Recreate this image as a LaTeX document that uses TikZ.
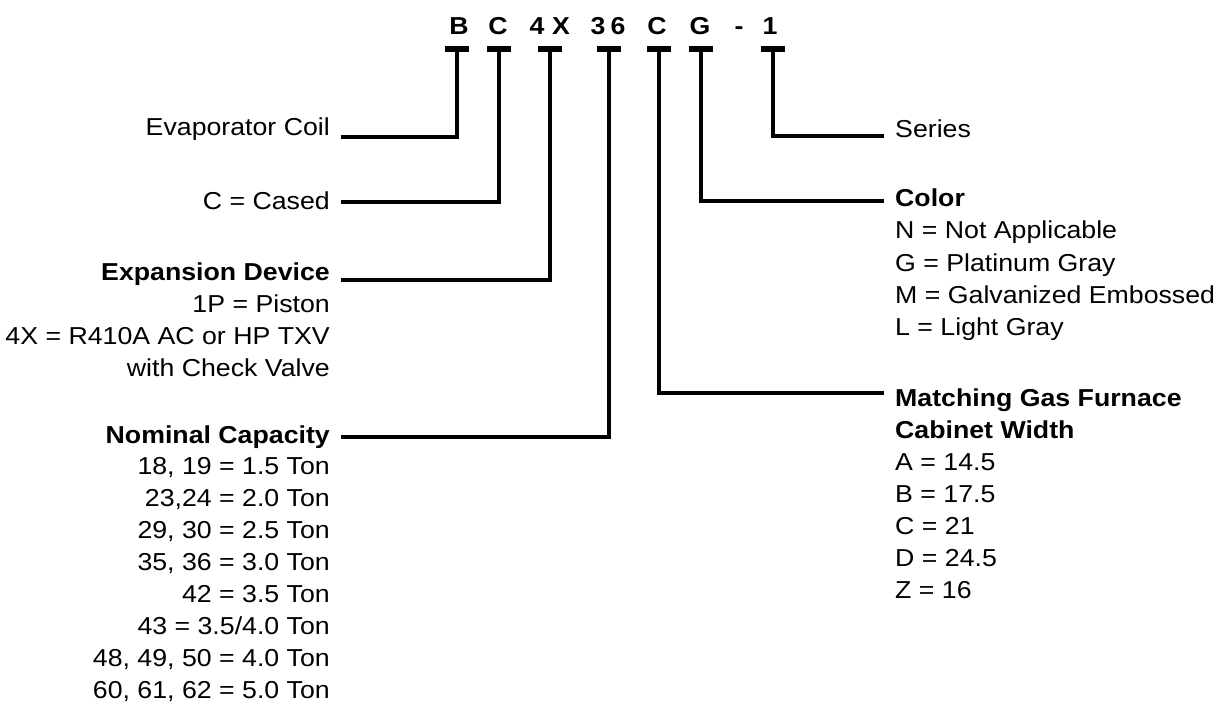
\documentclass[tikz,border=0pt]{standalone}
\usepackage{fontspec}
\setmainfont{Liberation Sans}[FakeStretch=1.09]
\usetikzlibrary{positioning}

\begin{document}
\begin{tikzpicture}[
  x=1pt, y=-1pt,
  every node/.style={inner sep=0pt, font=\fontsize{24.5}{32}\selectfont},
  code/.style={font=\fontsize{24.5}{32}\selectfont\bfseries, anchor=base},
  tbar/.style={fill=black, minimum width=24pt, minimum height=6pt},
  lbl/.style={anchor=base east},
  rlbl/.style={anchor=base west},
  head/.style={font=\fontsize{24.5}{32}\selectfont\bfseries},
  lead/.style={line width=4.5pt}
]
\fill[white] (0,0) rectangle (1225,719);
\useasboundingbox (0,0) rectangle (1225,719);

% model number
\node[code] (cB) at (459,35) {B};
\node[code] (cC) at (498,35) {C};
\node[code] (c4) at (537,35) {4};
\node[code] (cX) at (561,35) {X};
\node[code] (c3) at (598,35) {3};
\node[code] (c6) at (618,35) {6};
\node[code] (cC2) at (657,35) {C};
\node[code] (cG) at (700,35) {G};
\node[code] (cdash) at (739,35) {-};
\node[code] (c1) at (770,35) {1};

% T bars
\node[tbar] (tB) at (457,49) {};
\node[tbar] (tC) at (499,49) {};
\node[tbar] (t4X) at (550,49) {};
\node[tbar] (t36) at (609,49) {};
\node[tbar] (tC2) at (659,49) {};
\node[tbar] (tG) at (701,49) {};
\node[tbar] (t1) at (773,49) {};

% left side
\node[lbl] (evap) at (330,136) {Evaporator Coil};
\node[lbl] (cased) at (330,210) {C = Cased};
\node[lbl, head] (expdev) at (330,280) {Expansion Device};
\foreach \txt [count=\i] in {1P = Piston, 4X = R410A AC or HP TXV, with Check Valve}
  \node[lbl] (expdev-\i) at (330,280+32*\i) {\txt};
\node[lbl, head] (nomcap) at (330,443) {Nominal Capacity};
\foreach \txt [count=\i] in {{18, 19 = 1.5 Ton}, {23,24 = 2.0 Ton}, {29, 30 = 2.5 Ton},
    {35, 36 = 3.0 Ton}, {42 = 3.5 Ton}, {43 = 3.5/4.0 Ton}, {48, 49, 50 = 4.0 Ton},
    {60, 61, 62 = 5.0 Ton}}
  \node[lbl] (nomcap-\i) at (330,442+32*\i) {\txt};

% right side
\node[rlbl] (series) at (895,138) {Series};
\node[rlbl, head] (color) at (895,207) {Color};
\foreach \txt [count=\i] in {N = Not Applicable, G = Platinum Gray, M = Galvanized Embossed, L = Light Gray}
  \node[rlbl] (color-\i) at (895,207+32*\i) {\txt};
\node[rlbl, head] (furnace) at (895,406) {Matching Gas Furnace};
\node[rlbl, head] (cabinet) at (895,438) {Cabinet Width};
\foreach \txt [count=\i] in {A = 14.5, B = 17.5, C = 21, D = 24.5, Z = 16}
  \node[rlbl] (cabinet-\i) at (895,438+32*\i) {\txt};

% leaders
\draw[lead] (tB.center) |- ([shift={(11pt,-1pt)}]evap.base east);
\draw[lead] (tC.center) |- ([shift={(11pt,8pt)}]cased.base east);
\draw[lead] (t4X.center) |- ([shift={(11pt,0pt)}]expdev.base east);
\draw[lead] (t36.center) |- ([shift={(11pt,6pt)}]nomcap.base east);
\draw[lead] (t1.center) |- ([shift={(-11pt,2pt)}]series.base west);
\draw[lead] (tG.center) |- ([shift={(-11pt,6pt)}]color.base west);
\draw[lead] (tC2.center) |- ([shift={(-11pt,13pt)}]furnace.base west);
\end{tikzpicture}
\end{document}
